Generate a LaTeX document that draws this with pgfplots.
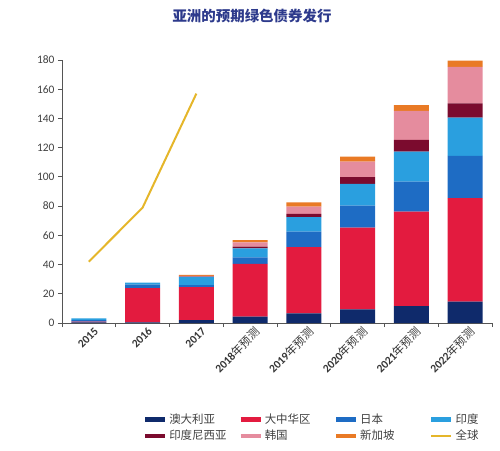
\documentclass[border=0pt]{standalone}
\usepackage{fontspec}
\setmainfont{Carlito}
\newfontfamily\cjk{Noto Sans CJK SC}
\usepackage{pgfplots}
\usepackage{pgfplotstable}
\pgfplotsset{compat=1.18}
\definecolor{cnavy}{HTML}{0F2A6B}
\definecolor{cred}{HTML}{E31B3F}
\definecolor{cblue}{HTML}{1E6CC4}
\definecolor{clblue}{HTML}{2A9FDF}
\definecolor{cmaroon}{HTML}{7B0B2E}
\definecolor{cpink}{HTML}{E58C9E}
\definecolor{corange}{HTML}{E97A25}
\definecolor{cgold}{HTML}{E5B62A}
\definecolor{ctitle}{HTML}{2D3A8C}
\definecolor{ctext}{HTML}{404040}
\definecolor{caxis}{HTML}{555555}
\pgfplotstableread{
x aus chn jpn ind idn kor sgp
0 0.4 0.6 1.0 1.2 0 0 0
1 0.5 23.3 2.5 1.3 0 0 0
2 2.0 22.6 1.4 5.5 0.2 0.5 0.7
3 4.3 36.1 4.6 6.1 1.1 2.9 1.6
4 6.6 45.4 10.6 9.8 2.3 5.0 2.9
5 9.4 55.9 15.0 14.9 4.6 10.7 3.4
6 11.6 64.6 20.6 20.5 8.0 19.8 4.1
7 14.6 70.8 28.9 26.2 9.8 25.0 4.3
}\datatable
\begin{document}
\begin{tikzpicture}
\path[use as bounding box] (0,0) rectangle (500bp,-451bp);
\node[font=\cjk\bfseries\fontsize{14.5}{16}\selectfont, text=ctitle] at (252bp,-16bp) {亚洲的预期绿色债券发行};
\begin{axis}[
  at={(62bp,-323bp)}, anchor=south west,
  scale only axis, width=430bp, height=263bp,
  ybar stacked, bar width=0.65,
  xmin=-0.5, xmax=7.5, ymin=0, ymax=180,
  axis lines=left, axis line style={-, caxis, line width=0.8bp},
  tick align=outside, major tick length=4bp,
  tick style={caxis, line width=0.8bp},
  ytick={0,20,...,180},
  yticklabel style={font=\fontsize{11.5}{13}\selectfont, text=ctext, /pgf/number format/assume math mode=true},
  xtick={-0.5,0.5,...,7.5}, xticklabels={},
  extra x ticks={0,1,2,3,4,5,6,7},
  extra x tick labels={\textbf{2015},\textbf{2016},\textbf{2017},\textbf{2018}{\cjk 年预测},\textbf{2019}{\cjk 年预测},\textbf{2020}{\cjk 年预测},\textbf{2021}{\cjk 年预测},\textbf{2022}{\cjk 年预测}},
  extra x tick style={major tick length=0pt},
  xticklabel style={font=\fontsize{11.5}{13}\selectfont, text=ctext!85!black, rotate=45, anchor=east, xshift=4bp, yshift=-10bp},
  legend columns=4,
  legend style={draw=none, fill=none, at={(0.582,-0.33)}, anchor=north,
    font=\cjk\fontsize{11.5}{13}\selectfont, text=ctext,
    /tikz/every odd column/.append style={column sep=0bp},
    /tikz/every even column/.append style={column sep=0bp},
    row sep=1bp},
  legend cell align=left,
]
\addplot[fill=cnavy, draw=none, legend image code/.code={\draw[line width=4.5bp,cnavy] (0bp,0bp)--(20bp,0bp);}] table[x=x,y=aus]{\datatable};
\addlegendentry{\makebox[67bp][l]{澳大利亚}}
\addplot[fill=cred, draw=none, legend image code/.code={\draw[line width=4.5bp,cred] (0bp,0bp)--(20bp,0bp);}] table[x=x,y=chn]{\datatable};
\addlegendentry{\makebox[67bp][l]{大中华区}}
\addplot[fill=cblue, draw=none, legend image code/.code={\draw[line width=4.5bp,cblue] (0bp,0bp)--(20bp,0bp);}] table[x=x,y=jpn]{\datatable};
\addlegendentry{\makebox[67bp][l]{日本}}
\addplot[fill=clblue, draw=none, legend image code/.code={\draw[line width=4.5bp,clblue] (0bp,0bp)--(20bp,0bp);}] table[x=x,y=ind]{\datatable};
\addlegendentry{\makebox[24bp][l]{印度}}
\addplot[fill=cmaroon, draw=none, legend image code/.code={\draw[line width=4.5bp,cmaroon] (0bp,0bp)--(20bp,0bp);}] table[x=x,y=idn]{\datatable};
\addlegendentry{\makebox[67bp][l]{印度尼西亚}}
\addplot[fill=cpink, draw=none, legend image code/.code={\draw[line width=4.5bp,cpink] (0bp,0bp)--(20bp,0bp);}] table[x=x,y=kor]{\datatable};
\addlegendentry{\makebox[67bp][l]{韩国}}
\addplot[fill=corange, draw=none, legend image code/.code={\draw[line width=4.5bp,corange] (0bp,0bp)--(20bp,0bp);}] table[x=x,y=sgp]{\datatable};
\addlegendentry{\makebox[67bp][l]{新加坡}}
\addplot[stack plots=false, sharp plot, cgold, line width=2bp, mark=none, legend image code/.code={\draw[line width=1.5bp,cgold] (0bp,0bp)--(20bp,0bp);}] coordinates {(0,42) (1,79) (2,157)};
\addlegendentry{\makebox[24bp][l]{全球}}
\end{axis}
\end{tikzpicture}
\end{document}
